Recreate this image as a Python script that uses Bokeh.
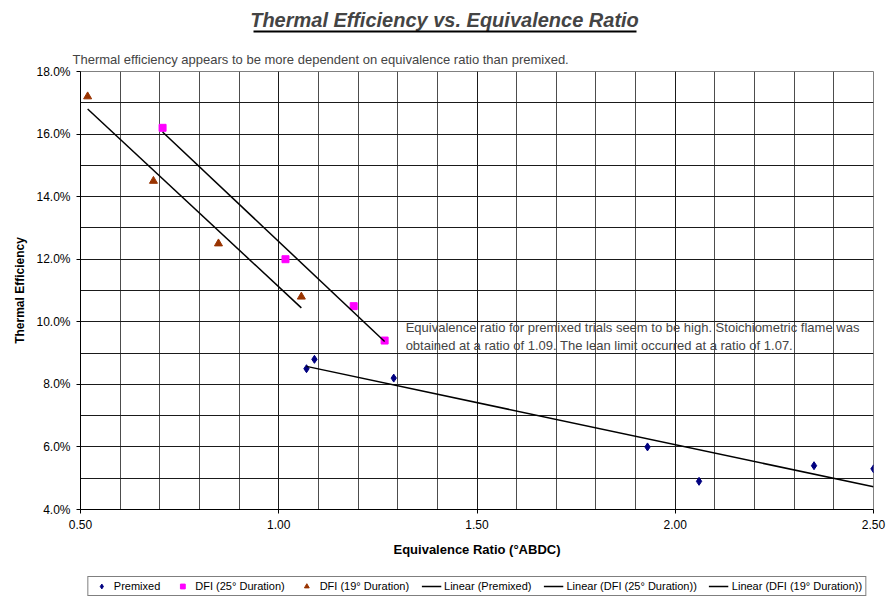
import numpy as np
from bokeh.plotting import figure
from bokeh.layouts import column
from bokeh.models import (Range1d, Label, Legend, LegendItem, PrintfTickFormatter,
                          SingleIntervalTicker, BoxAnnotation, Title)
from bokeh.embed import file_html
from bokeh.resources import INLINE

FONT = "Liberation Sans"

# ---- data ----
premixed_x = [1.07, 1.09, 1.29, 1.93, 2.06, 2.35, 2.50]
premixed_y = [8.5, 8.8, 8.2, 6.0, 4.9, 5.4, 5.3]
dfi25_x = [0.707, 1.017, 1.189, 1.267]
dfi25_y = [16.2, 12.0, 10.5, 9.4]
dfi19_x = [0.518, 0.684, 0.848, 1.057]
dfi19_y = [17.2, 14.5, 12.5, 10.8]

series_labels = ["Premixed", "DFI (25° Duration)", "DFI (19° Duration)"]
trend_labels = ["Linear (Premixed)", "Linear (DFI (25° Duration))", "Linear (DFI (19° Duration))"]
series_colors = ["#000080", "#FF00FF", "#993300"]
series_markers = ["diamond", "square", "triangle"]
series_sizes = [8, 7, 8]

title_text = "Thermal Efficiency vs. Equivalence Ratio"
subtitle_text = "Thermal efficiency appears to be more dependent on equivalence ratio than premixed."
note_text = ("Equivalence ratio for premixed trials seem to be high. Stoichiometric flame was\n"
             "obtained at a ratio of 1.09. The lean limit occurred at a ratio of 1.07.")

# ---- header (title + underline); its frame aligns with the main frame (80..873 px) ----
HH = 45
hdr = figure(width=894, height=HH, x_range=Range1d(80, 873), y_range=Range1d(HH, 0),
             x_axis_location=None, y_axis_location=None,
             output_backend="svg", toolbar_location=None,
             min_border_left=80, min_border_right=21, min_border_top=0, min_border_bottom=0)
hdr.grid.visible = False
hdr.outline_line_color = None
hdr.add_layout(Label(x=444, y=19, text=title_text, text_font=FONT, text_font_size="20px",
                     text_font_style="bold italic", text_align="center", text_baseline="middle"))
hdr.add_layout(BoxAnnotation(left=253, right=636, top=30, bottom=32,
                             fill_color="black", fill_alpha=1, line_color=None))

# ---- main chart ----
p = figure(frame_width=793, frame_height=438, x_range=Range1d(0.5, 2.5), y_range=Range1d(4, 18),
           output_backend="svg", toolbar_location=None,
           min_border_left=80, min_border_right=21, min_border_top=26, min_border_bottom=66)
p.add_layout(Title(text=subtitle_text, align="left", offset=-8, text_font=FONT,
                   text_font_size="13px", text_font_style="normal", standoff=9), "above")
p.outline_line_color = "#808080"
p.xaxis.ticker = SingleIntervalTicker(interval=0.5, num_minor_ticks=5)
p.yaxis.ticker = SingleIntervalTicker(interval=2, num_minor_ticks=2)
p.xaxis.formatter = PrintfTickFormatter(format="%.2f")
p.yaxis.formatter = PrintfTickFormatter(format="%.1f%%")
for ax in (p.xaxis, p.yaxis):
    ax.major_label_text_font = FONT
    ax.major_label_text_font_size = "12px"
    ax.major_label_text_color = "black"
    ax.axis_label_text_font = FONT
    ax.axis_label_text_font_style = "bold"
    ax.axis_label_text_color = "black"
    ax.axis_line_color = "black"
    ax.major_tick_line_color = "black"
    ax.major_tick_in = 0
    ax.major_tick_out = 4
    ax.minor_tick_line_color = None
p.xaxis.axis_label = "Equivalence Ratio (°ABDC)"
p.yaxis.axis_label = "Thermal Efficiency"
p.xaxis.axis_label_text_font_size = "13px"
p.yaxis.axis_label_text_font_size = "12px"
p.xaxis.major_label_standoff = 6
p.xaxis.axis_label_standoff = 10
p.yaxis.major_label_standoff = 6
p.yaxis.axis_label_standoff = 6
p.xgrid.grid_line_color = "#1a1a1a"
p.ygrid.grid_line_color = "#1a1a1a"
p.xgrid.minor_grid_line_color = "#4d4d4d"
p.ygrid.minor_grid_line_color = "#1a1a1a"

all_x = [premixed_x, dfi25_x, dfi19_x]
all_y = [premixed_y, dfi25_y, dfi19_y]

def trend(xs, ys):
    m, b = np.polyfit(xs, ys, 1)
    x0, x1 = min(xs), max(xs)
    return [x0, x1], [m * x0 + b, m * x1 + b]

for xs, ys, mk, sz, col in zip(all_x, all_y, series_markers, series_sizes, series_colors):
    p.scatter(xs, ys, marker=mk, size=sz, color=col)
for xs, ys in zip(all_x, all_y):
    tx, ty = trend(xs, ys)
    p.line(tx, ty, line_color="black", line_width=1.5)

p.add_layout(Label(x=1.32, y=10.07, text=note_text, text_font=FONT, text_font_size="13px",
                   text_align="left", text_baseline="top"))

# ---- footer holding the legend; its renderers use the same data but lie outside its view ----
ftr = figure(width=894, height=22, x_range=Range1d(0.5, 2.5), y_range=Range1d(100, 101),
             x_axis_location=None, y_axis_location=None,
             output_backend="svg", toolbar_location=None,
             min_border_left=80, min_border_right=21, min_border_top=0, min_border_bottom=0)
ftr.grid.visible = False
ftr.outline_line_color = None
items = []
for lab, xs, ys, mk, sz, col in zip(series_labels, all_x, all_y, series_markers,
                                     series_sizes, series_colors):
    r = ftr.scatter(xs, ys, marker=mk, size=sz, color=col)
    items.append(LegendItem(label=lab, renderers=[r]))
for lab, xs, ys in zip(trend_labels, all_x, all_y):
    tx, ty = trend(xs, ys)
    r = ftr.line(tx, ty, line_color="black", line_width=1.5)
    items.append(LegendItem(label=lab, renderers=[r]))

legend = Legend(items=items, orientation="horizontal", location="center")
legend.label_text_font = FONT
legend.label_text_font_size = "11px"
legend.label_text_color = "black"
legend.glyph_width = 20
legend.glyph_height = 12
legend.label_standoff = 3
legend.spacing = 12
legend.padding = 3
legend.margin = 0
legend.border_line_color = "black"
legend.border_line_width = 1
legend.label_height = 12
ftr.add_layout(legend)

layout = column(hdr, p, ftr, spacing=0)
open("out.html", "w").write(file_html(layout, INLINE))
